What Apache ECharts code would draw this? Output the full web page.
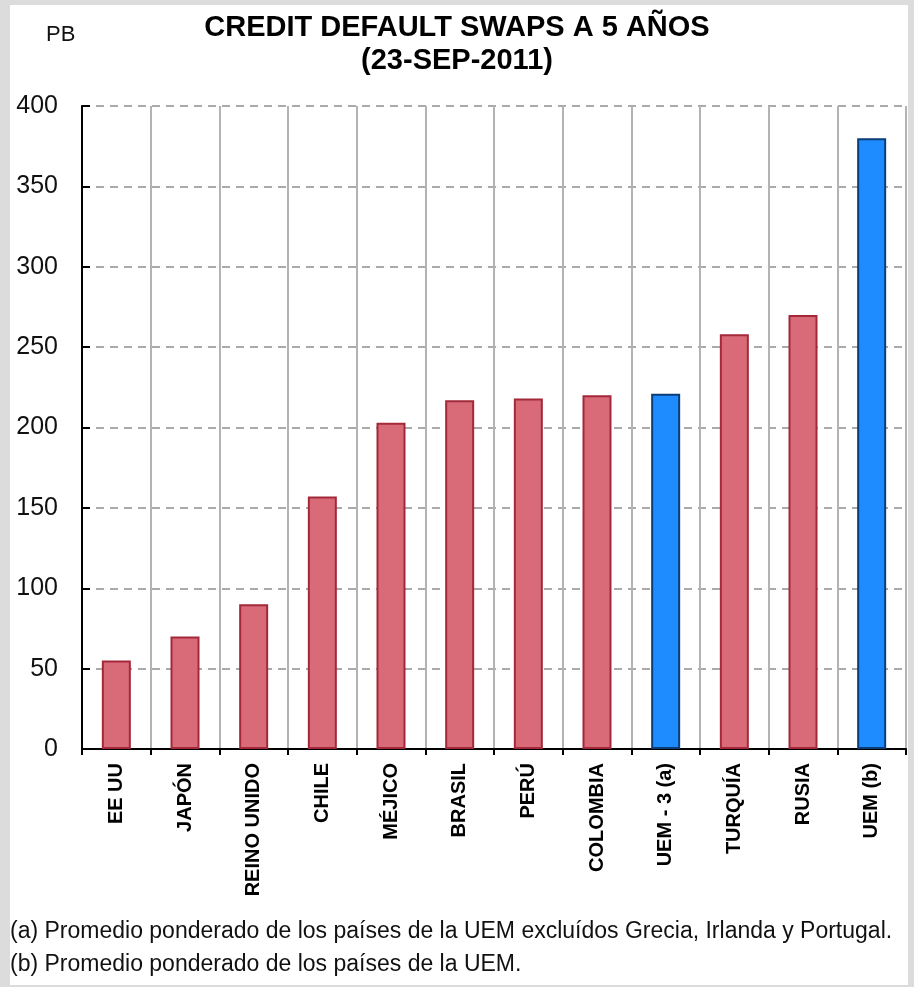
<!DOCTYPE html>
<html>
<head>
<meta charset="utf-8">
<script src="https://cdn.jsdelivr.net/npm/echarts@6/dist/echarts.min.js"></script>
<style>
  html, body { margin: 0; padding: 0; background: #dcdcdc; }
  #chart { width: 914px; height: 987px; }
</style>
</head>
<body>
<div id="chart"></div>
<script>
// Spreads in basis points, one per country / aggregate
const categories = ['EE UU', 'JAPÓN', 'REINO UNIDO', 'CHILE', 'MÉJICO', 'BRASIL', 'PERÚ', 'COLOMBIA', 'UEM - 3 (a)', 'TURQUÍA', 'RUSIA', 'UEM (b)'];
const values = [55, 70, 90, 157, 203, 217, 218, 220, 221, 258, 270, 380];
// Euro-area aggregates are drawn in blue
const euroAreaGroups = ['UEM - 3 (a)', 'UEM (b)'];
const yTicks = [0, 50, 100, 150, 200, 250, 300, 350, 400];

const titleLines = ['CREDIT DEFAULT SWAPS A 5 AÑOS', '(23-SEP-2011)'];
const unitLabel = 'PB';
const notes = [
  '(a) Promedio ponderado de los países de la UEM excluídos Grecia, Irlanda y Portugal.',
  '(b) Promedio ponderado de los países de la UEM.'
];

const RED = { fill: '#d96b79', edge: '#a3283a' };
const BLUE = { fill: '#1e8cff', edge: '#0b3d78' };

const chart = echarts.init(document.getElementById('chart'), null, { renderer: 'canvas' });

const barData = categories.map((c, i) => {
  const pal = euroAreaGroups.includes(c) ? BLUE : RED;
  return {
    value: values[i],
    itemStyle: { color: pal.fill, borderColor: pal.edge, borderWidth: 2 }
  };
});

const FONT = '"Liberation Sans", Arial, Helvetica, sans-serif';

chart.setOption({
  backgroundColor: '#dcdcdc',
  animation: false,
  textStyle: { fontFamily: FONT },
  title: {
    text: titleLines.join('\n'),
    left: 'center',
    top: 6,
    textStyle: { fontSize: 29, fontWeight: 'bold', color: '#000', lineHeight: 33, fontFamily: FONT }
  },
  graphic: [
    {
      type: 'rect', z: -10, silent: true,
      shape: { x: 10, y: 5, width: 898, height: 980 },
      style: { fill: '#ffffff' }
    },
    {
      type: 'text', left: 46, top: 24, silent: true,
      style: { text: unitLabel, fontSize: 22, fill: '#111', font: '22px ' + FONT }
    },
    {
      type: 'text', left: 10, top: 915, silent: true,
      style: { text: notes.join('\n'), fill: '#111', font: '23px ' + FONT, lineHeight: 33 }
    }
  ],
  grid: { left: 82, right: 8, top: 106, bottom: 238, containLabel: false },
  xAxis: {
    type: 'category',
    data: categories,
    axisLine: { show: true, lineStyle: { color: '#000', width: 2 } },
    axisTick: { show: true, length: 6, lineStyle: { color: '#000', width: 2 } },
    splitLine: { show: true, lineStyle: { color: '#b3b3b3', width: 2, type: 'solid' } },
    axisLabel: {
      rotate: 90, margin: 14, color: '#000', fontSize: 20, fontWeight: 'bold', fontFamily: FONT
    }
  },
  yAxis: {
    type: 'value',
    min: yTicks[0],
    max: yTicks[yTicks.length - 1],
    interval: yTicks[1] - yTicks[0],
    axisLine: { show: true, lineStyle: { color: '#000', width: 2 } },
    axisTick: { show: true, inside: true, length: 8, lineStyle: { color: '#000', width: 2 } },
    splitLine: { show: true, lineStyle: { color: '#aaaaaa', width: 2, type: [8, 6] } },
    axisLabel: { margin: 24, color: '#111', fontSize: 25, fontFamily: FONT }
  },
  series: [{
    type: 'bar',
    data: barData,
    barWidth: 29
  }]
});
</script>
</body>
</html>
